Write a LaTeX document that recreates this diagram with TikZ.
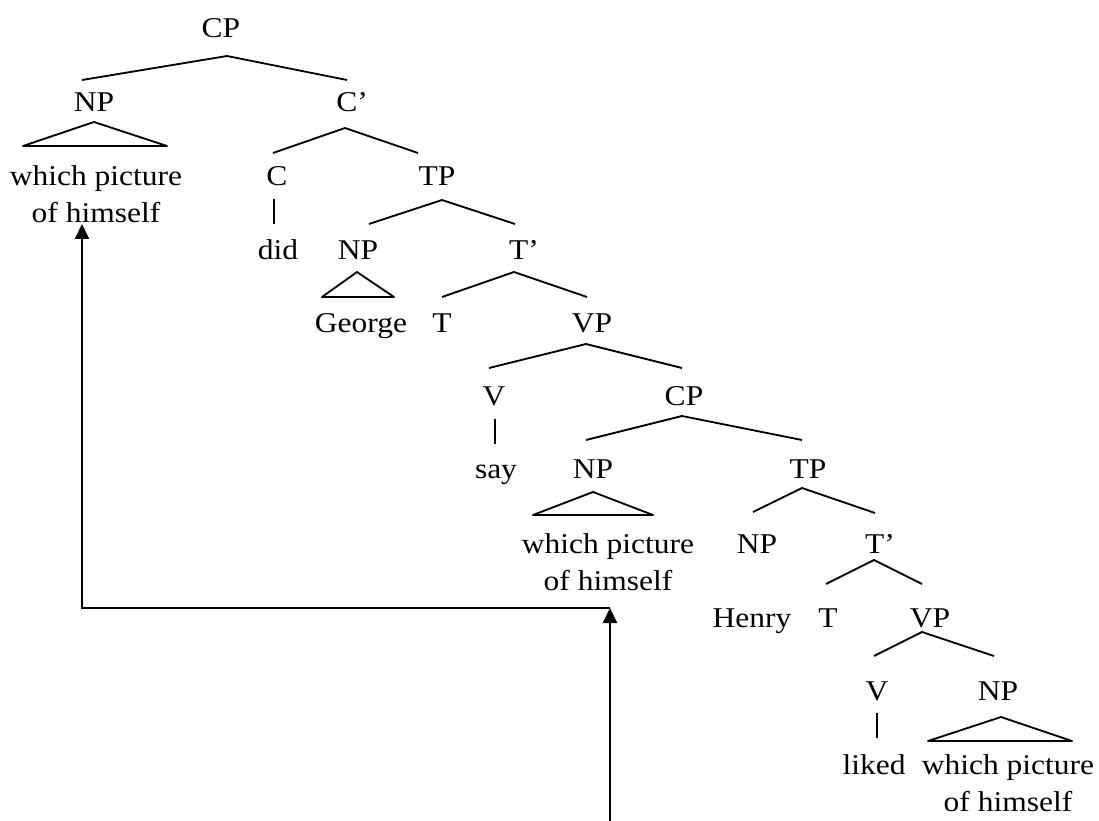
\documentclass[tikz,border=0pt]{standalone}
\usepackage{fontspec}
\setmainfont{Liberation Serif}[FakeStretch=1.1]
\usetikzlibrary{arrows.meta}

\begin{document}
\begin{tikzpicture}[x=0.02cm, y=-0.02cm,
    lbl/.style={anchor=base, inner sep=0pt, font=\fontsize{16.3}{21}\selectfont},
    % multi-line phrases are anchored at the baseline of their last line
    phrase/.style={lbl, align=center},
    branch/.style={line width=1.05pt, line join=round},
    move/.style={line width=1.15pt},
    movetip/.style={move, -{Triangle[length=0.3cm, width=0.28cm]}}]
  \useasboundingbox (0,0) rectangle (1099,821);

  % ---- labels ----
  \node[lbl] (cp1)    at (221,38)  {CP};
  \node[lbl] (np1)    at (94,112)  {NP};
  \node[lbl] (cbar1)  at (352,112) {C’};
  \node[phrase] (wp1) at (96,222)  {which picture\\of himself};
  \node[lbl] (c1)     at (277,185) {C};
  \node[lbl] (tp1)    at (437,185) {TP};
  \node[lbl] (did)    at (278,259) {did};
  \node[lbl] (np2)    at (358,259) {NP};
  \node[lbl] (tbar1)  at (524,259) {T’};
  \node[lbl] (george) at (361,332) {George};
  \node[lbl] (t1)     at (442,332) {T};
  \node[lbl] (vp1)    at (592,332) {VP};
  \node[lbl] (v1)     at (494,405) {V};
  \node[lbl] (cp2)    at (684,405) {CP};
  \node[lbl] (say)    at (496,478) {say};
  \node[lbl] (np3)    at (593,478) {NP};
  \node[lbl] (tp2)    at (808,478) {TP};
  \node[phrase] (wp2) at (608,590) {which picture\\of himself};
  \node[lbl] (np4)    at (757,553) {NP};
  \node[lbl] (tbar2)  at (880,553) {T’};
  \node[lbl] (henry)  at (752,627) {Henry};
  \node[lbl] (t2)     at (828,627) {T};
  \node[lbl] (vp2)    at (930,627) {VP};
  \node[lbl] (v2)     at (877,700) {V};
  \node[lbl] (np5)    at (998,700) {NP};
  \node[lbl] (liked)  at (874,774) {liked};
  \node[phrase] (wp3) at (1008,811) {which picture\\of himself};

  % ---- branch points ----
  \coordinate (cp1-a) at (227,56);   \coordinate (cp1-l) at (82,80);   \coordinate (cp1-r) at (347,80);
  \coordinate (np1-a) at (94,122);   \coordinate (np1-l) at (23,146);  \coordinate (np1-r) at (167,146);
  \coordinate (cbar1-a) at (345,128); \coordinate (cbar1-l) at (273,153); \coordinate (cbar1-r) at (418,153);
  \coordinate (c1-a) at (274,199);   \coordinate (c1-b) at (274,224);
  \coordinate (tp1-a) at (442,200);  \coordinate (tp1-l) at (369,224); \coordinate (tp1-r) at (515,224);
  \coordinate (np2-a) at (357,272);  \coordinate (np2-l) at (322,297); \coordinate (np2-r) at (394,297);
  \coordinate (tbar1-a) at (514,272); \coordinate (tbar1-l) at (442,297); \coordinate (tbar1-r) at (587,297);
  \coordinate (vp1-a) at (586,344);  \coordinate (vp1-l) at (489,368); \coordinate (vp1-r) at (682,368);
  \coordinate (v1-a) at (495,419);   \coordinate (v1-b) at (495,444);
  \coordinate (cp2-a) at (682,416);  \coordinate (cp2-l) at (586,440); \coordinate (cp2-r) at (802,440);
  \coordinate (np3-a) at (593,492);  \coordinate (np3-l) at (533,515); \coordinate (np3-r) at (653,515);
  \coordinate (tp2-a) at (802,488);  \coordinate (tp2-l) at (753,512); \coordinate (tp2-r) at (875,513);
  \coordinate (tbar2-a) at (874,560); \coordinate (tbar2-l) at (826,584); \coordinate (tbar2-r) at (922,584);
  \coordinate (vp2-a) at (922,632);  \coordinate (vp2-l) at (874,656); \coordinate (vp2-r) at (994,656);
  \coordinate (v2-a) at (877,713);   \coordinate (v2-b) at (877,738);
  \coordinate (np5-a) at (1001,717); \coordinate (np5-l) at (928,741); \coordinate (np5-r) at (1072,741);

  % ---- branches ----
  \foreach \n in {cp1,cbar1,tp1,tbar1,vp1,cp2,tp2,tbar2,vp2}
    \draw[branch] (\n-l) -- (\n-a) -- (\n-r);
  \foreach \n in {np1,np2,np3,np5}
    \draw[branch] (\n-l) -- (\n-a) -- (\n-r) -- cycle;
  \foreach \n in {c1,v1,v2}
    \draw[branch] (\n-a) -- (\n-b);

  % ---- movement arrows ----
  \coordinate (trace)  at (610,821);
  \coordinate (land)   at (610,608);
  \coordinate (corner) at (82,608);
  \coordinate (target) at (82,224);
  \draw[movetip] (trace) -- (land);
  \draw[movetip] (land) -- (corner) -- (target);
\end{tikzpicture}
\end{document}
